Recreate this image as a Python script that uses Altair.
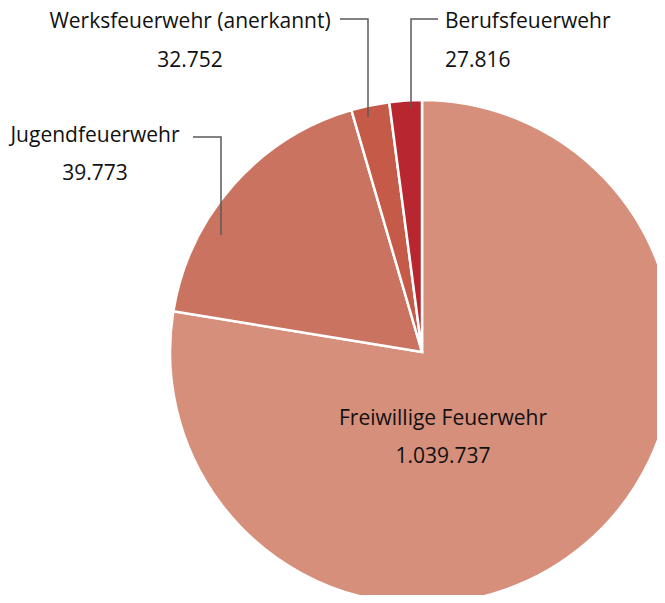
import altair as alt
import pandas as pd

# ---- data ----
categories = ["Freiwillige Feuerwehr", "Jugendfeuerwehr", "Werksfeuerwehr (anerkannt)", "Berufsfeuerwehr"]
slice_values = [1039737, 239773, 32752, 27816]          # slice sizes as drawn
value_labels = ["1.039.737", "39.773", "32.752", "27.816"]  # numbers as printed
colors = ["#D68F7B", "#CA7360", "#C65A48", "#B8272F"]

# ---- layout (pixels inside the plot area, which starts 8px below the chart top) ----
PAD_TOP = 8
W, H = 649, 579
CX, CY, R = 414, 336, 252
FONT = "Open Sans"
FS = 21

# label anchor: x, baseline of name line, baseline of value line, alignment
label_layout = {
    "Freiwillige Feuerwehr": (435, 409, 447, "center"),
    "Jugendfeuerwehr": (87, 126, 164, "center"),
    "Werksfeuerwehr (anerkannt)": (182, 12, 51, "center"),
    "Berufsfeuerwehr": (437, 12, 51, "left"),
}
# elbow leader lines (label end -> corner -> slice)
leader_layout = {
    "Jugendfeuerwehr": [(185, 121), (213, 121), (213, 219)],
    "Werksfeuerwehr (anerkannt)": [(332, 3), (360, 3), (360, 101)],
    "Berufsfeuerwehr": [(430, 3), (403, 3), (403, 92)],
}

pie_df = pd.DataFrame({"cat": categories, "val": slice_values, "ord": list(range(len(categories)))})

rows = []
for cat, lab in zip(categories, value_labels):
    x, y1, y2, al = label_layout[cat]
    rows.append({"txt": cat, "x": x, "y": y1, "align": al})
    rows.append({"txt": lab, "x": x, "y": y2, "align": al})
text_df = pd.DataFrame(rows)

lrows = []
for cat, pts in leader_layout.items():
    for i, (x, y) in enumerate(pts):
        lrows.append({"cat": cat, "i": i, "x": x, "y": y})
line_df = pd.DataFrame(lrows)

xs = alt.Scale(domain=[0, W], range=[0, W])
ys = alt.Scale(domain=[0, H], range=[0, H])

pie = alt.Chart(pie_df).mark_arc(outerRadius=R, stroke="white", strokeWidth=2.5).encode(
    theta=alt.Theta("val:Q", stack=True),
    order=alt.Order("ord:Q"),
    color=alt.Color("cat:N", scale=alt.Scale(domain=categories, range=colors), legend=None),
    x=alt.value(CX),
    y=alt.value(CY),
)

lines = alt.Chart(line_df).mark_line(color="#5a5a5a", strokeWidth=1.5).encode(
    x=alt.X("x:Q", scale=xs, axis=None),
    y=alt.Y("y:Q", scale=ys, axis=None),
    detail="cat:N",
    order="i:Q",
)

def text_layer(al):
    return alt.Chart(text_df).transform_filter(alt.datum.align == al).mark_text(
        align=al, baseline="alphabetic", font=FONT, fontSize=FS, color="#111111"
    ).encode(
        x=alt.X("x:Q", scale=xs, axis=None),
        y=alt.Y("y:Q", scale=ys, axis=None),
        text="txt:N",
    )

chart = alt.layer(pie, lines, text_layer("center"), text_layer("left")).properties(
    width=W, height=H,
    padding={"top": PAD_TOP, "left": 0, "right": 0, "bottom": 0},
    autosize=alt.AutoSizeParams(type="none"),
).configure_view(stroke=None)

chart.save("out.html", embed_options={"renderer": "svg", "actions": False})
